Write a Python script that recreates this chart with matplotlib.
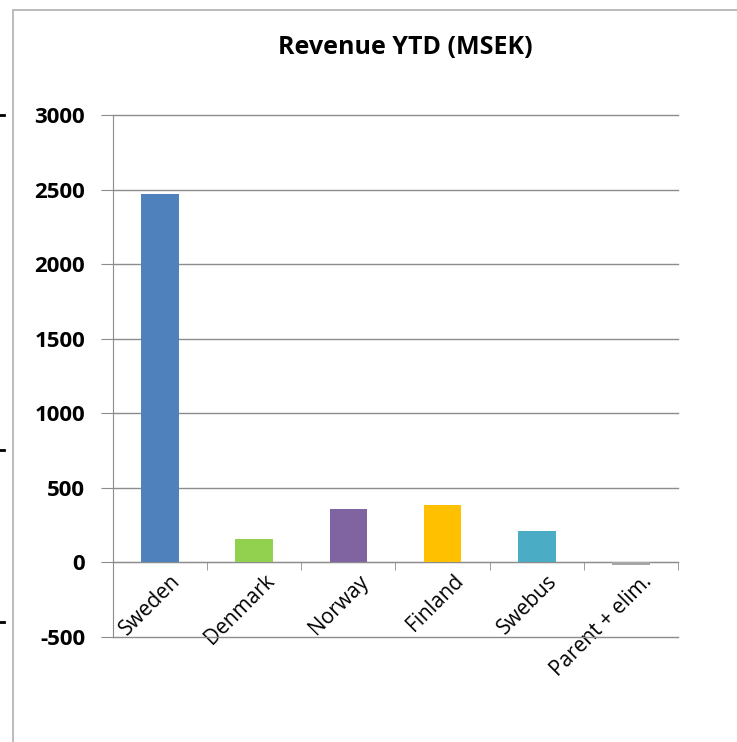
import numpy as np
import matplotlib
matplotlib.use('Agg')
import matplotlib.pyplot as plt
import matplotlib.transforms as mtransforms
from matplotlib.patches import Rectangle
from matplotlib.lines import Line2D

# Data
categories = ['Sweden', 'Denmark', 'Norway', 'Finland', 'Swebus', 'Parent + elim.']
revenue = [2470, 160, 355, 388, 208, -18]
colors = ['#4F81BD', '#92D050', '#8064A2', '#FFC000', '#4BACC6', '#A6A6A6']
y_ticks = [-500, 0, 500, 1000, 1500, 2000, 2500, 3000]

fig = plt.figure(figsize=(7.37, 7.42), dpi=100)

# Chart frame
fig.patches.append(Rectangle((13 / 737, -0.01), 1.0, 1 - 10 / 742 + 0.01,
                             transform=fig.transFigure, fill=False,
                             edgecolor='#b0b0b0', linewidth=1.2))
# little marks on the left edge
for yy in [115, 450, 622]:
    fig.lines.append(Line2D([0, 4 / 737], [1 - yy / 742] * 2,
                            transform=fig.transFigure, color='black', linewidth=2))

ax = fig.add_axes([113 / 737, 1 - 637 / 742, (678 - 113) / 737, (637 - 115) / 742])

x = np.arange(len(categories))
ax.bar(x, revenue, width=0.4, color=colors, zorder=3)

ax.set_xlim(-0.5, len(categories) - 0.5)
ax.set_ylim(-500, 3000)
ax.set_yticks(y_ticks)
ax.set_yticklabels([str(v) for v in y_ticks], fontsize=16, fontweight='bold',
                   family='Open Sans')
ax.yaxis.grid(True, color='#8c8c8c', linewidth=1)
for gl in ax.get_ygridlines():
    gl.set_clip_on(False)
ax.set_axisbelow(True)

for s in ['top', 'right']:
    ax.spines[s].set_visible(False)
ax.spines['left'].set_color('#8c8c8c')
ax.spines['bottom'].set_position(('data', 0))
ax.spines['bottom'].set_color('#8c8c8c')
ax.tick_params(axis='y', length=9, color='#8c8c8c', pad=11)

# category labels at centers, tick marks at boundaries
ax.set_xticks(x)
ax.set_xticklabels(categories, rotation=45, ha='right', rotation_mode='anchor',
                   fontsize=15, family='Open Sans')
ax.tick_params(axis='x', which='major', length=0, pad=6)
shift = mtransforms.ScaledTranslation(10 / 100, 0, fig.dpi_scale_trans)
for lbl in ax.get_xticklabels():
    lbl.set_transform(lbl.get_transform() + shift)
ax.set_xticks(np.arange(len(categories) + 1) - 0.5, minor=True)
ax.tick_params(axis='x', which='minor', length=6, color='#8c8c8c')

fig.text(405 / 737, 1 - 48 / 742, 'Revenue YTD (MSEK)', ha='center', va='center',
         fontsize=18, fontweight='bold', family='Open Sans')

fig.savefig('out.png', dpi=100)
